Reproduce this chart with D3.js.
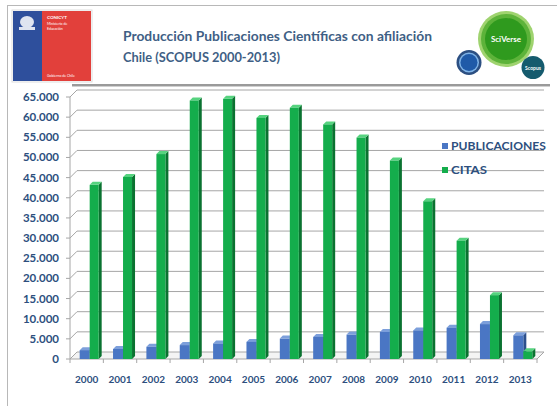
<!DOCTYPE html>
<html><head><meta charset="utf-8">
<script src="https://cdn.jsdelivr.net/npm/d3@7"></script>
<style>body{margin:0;background:#fff}svg{display:block}</style>
</head><body>
<svg id="c" width="557" height="406"></svg>
<script>
const years = ["2000","2001","2002","2003","2004","2005","2006","2007","2008","2009","2010","2011","2012","2013"];
const publicaciones = [2200, 2480, 3030, 3450, 3850, 4240, 5060, 5480, 6050, 6700, 7100, 7770, 8660, 5880];
const citas = [43200, 45160, 50840, 64130, 64540, 59810, 62330, 58190, 54940, 49230, 39130, 29350, 15830, 1900];
const yTicks = [0,5000,10000,15000,20000,25000,30000,35000,40000,45000,50000,55000,60000,65000];
const seriesNames = ["PUBLICACIONES", "CITAS"];
const titleLines = ["Producción Publicaciones Científicas con afiliación", "Chile (SCOPUS 2000-2013)"];

const svg = d3.select("#c");
const fmt = v => d3.format(",")(v).replace(/,/g, ".");
const FONT = "Lato, 'Open Sans', sans-serif";
const txtCol = "#2d4f7e";

// slide frame
svg.append("line").attr("x1",7).attr("y1",5.5).attr("x2",557).attr("y2",5.5).attr("stroke","#b8b8b8");
svg.append("line").attr("x1",7.5).attr("y1",5).attr("x2",7.5).attr("y2",406).attr("stroke","#b8b8b8");
// header separator
svg.append("rect").attr("x",72).attr("y",84).attr("width",478).attr("height",2).attr("fill","#9a9a9a");
svg.append("rect").attr("x",72).attr("y",86).attr("width",478).attr("height",1).attr("fill","#d0d0d0");

// logo
const lg = svg.append("g");
lg.append("rect").attr("x",12).attr("y",10).attr("width",80).attr("height",72).attr("fill","#fff").attr("stroke","#ddd");
lg.append("rect").attr("x",13).attr("y",11).attr("width",29).attr("height",70).attr("fill","#2e4f9c");
lg.append("rect").attr("x",42).attr("y",11).attr("width",49).attr("height",70).attr("fill","#e2403b");
lg.append("ellipse").attr("cx",27).attr("cy",22).attr("rx",7).attr("ry",6).attr("fill","#dfe4f0");
lg.append("rect").attr("x",19).attr("y",27).attr("width",16).attr("height",3).attr("fill","#dfe4f0");
lg.append("text").attr("x",47).attr("y",19).attr("font-size",4.5).attr("font-weight","bold").attr("fill","#fff").attr("font-family",FONT).text("CONICYT");
lg.append("text").attr("x",47).attr("y",25).attr("font-size",3.5).attr("fill","#fff").attr("font-family",FONT).text("Ministerio de");
lg.append("text").attr("x",47).attr("y",30).attr("font-size",3.5).attr("fill","#fff").attr("font-family",FONT).text("Educación");
lg.append("text").attr("x",47).attr("y",77).attr("font-size",3.5).attr("fill","#fff").attr("font-family",FONT).text("Gobierno de Chile");

// title
const titleLen = [309, 157];
svg.selectAll("text.title").data(titleLines).join("text").attr("class","title")
  .attr("x",123).attr("y",(d,i)=>41+i*21).attr("font-family",FONT).attr("font-weight","bold")
  .attr("font-size",14).attr("fill","#3f5f85").text(d=>d)
  .attr("textLength",(d,i)=>titleLen[i]).attr("lengthAdjust","spacingAndGlyphs");

// SciVerse logo
const sv = svg.append("g");
sv.append("circle").attr("cx",506).attr("cy",39).attr("r",28).attr("fill","#9fd36f");
sv.append("circle").attr("cx",506).attr("cy",39).attr("r",25).attr("fill","#5db33a");
sv.append("circle").attr("cx",506).attr("cy",39).attr("r",21).attr("fill","#2f9a1e");
sv.append("text").attr("x",506).attr("y",42).attr("text-anchor","middle").attr("font-family",FONT).attr("font-weight","bold").attr("font-size",8).attr("fill","#fff").text("SciVerse");
sv.append("circle").attr("cx",469).attr("cy",62.5).attr("r",12.5).attr("fill","#2c4f82");
sv.append("circle").attr("cx",469).attr("cy",62.5).attr("r",10).attr("fill","#7fb3e6");
sv.append("circle").attr("cx",469).attr("cy",62.5).attr("r",8.5).attr("fill","#1f5aa8");
sv.append("circle").attr("cx",533).attr("cy",67.5).attr("r",11.5).attr("fill","#155b6e");
sv.append("text").attr("x",533).attr("y",70).attr("text-anchor","middle").attr("font-family",FONT).attr("font-weight","bold").attr("font-size",5).attr("fill","#fff").text("Scopus");

// chart
const x0 = 70, x1 = 537, DX = 7, DY = -7;
const x = d3.scaleBand().domain(years).range([x0, x1]).paddingInner(0).paddingOuter(0);
const y = d3.scaleLinear().domain([0, 65000]).range([359, 97]);

// floor
const floorY = y(0);
svg.append("path").attr("d",`M${x0},${floorY}L${x1},${floorY}L${x1+DX},${floorY+DY}L${x0+DX},${floorY+DY}Z`)
  .attr("fill","#f4f4f4").attr("stroke","#a6a6a6");
// gridlines
const g = svg.append("g");
yTicks.filter(t=>t>0).forEach(t=>{
  g.append("path").attr("d",`M${x0},${y(t)}L${x0+DX},${y(t)+DY}L${x1+DX},${y(t)+DY}`)
    .attr("fill","none").attr("stroke","#a6a6a6").attr("stroke-width",1);
});
// y axis line and ticks
svg.append("line").attr("x1",x0).attr("x2",x0).attr("y1",y(65000)).attr("y2",floorY).attr("stroke","#a6a6a6");
yTicks.forEach(t=>{
  svg.append("line").attr("x1",x0-4).attr("x2",x0).attr("y1",y(t)).attr("y2",y(t)).attr("stroke","#a6a6a6");
});
svg.selectAll("text.yl").data(yTicks).join("text").attr("class","yl")
  .attr("x",59).attr("y",t=>y(t)+4).attr("text-anchor","end").attr("font-family",FONT)
  .attr("font-weight","bold").attr("font-size",11.5).attr("fill",txtCol).text(fmt);
// x ticks
years.concat(["end"]).forEach((yr,i)=>{
  const xx = x0 + i*x.step();
  svg.append("line").attr("x1",xx).attr("x2",xx).attr("y1",floorY).attr("y2",floorY+4).attr("stroke","#a6a6a6");
});
svg.selectAll("text.xl").data(years).join("text").attr("class","xl")
  .attr("x",d=>x(d)+x.bandwidth()/2).attr("y",383).attr("text-anchor","middle").attr("font-family",FONT)
  .attr("font-weight","bold").attr("font-size",10).attr("fill",txtCol).text(d=>d);

// 3D bars
const d = 3;
function bar3d(sel, bx, w, v, front, side, top){
  const yt = y(v), yb = y(0);
  sel.append("path").attr("d",`M${bx+w},${yb}L${bx+w+d},${yb-d}L${bx+w+d},${yt-d}L${bx+w},${yt}Z`).attr("fill",side);
  sel.append("path").attr("d",`M${bx},${yt}L${bx+d},${yt-d}L${bx+w+d},${yt-d}L${bx+w},${yt}Z`).attr("fill",top);
  sel.append("rect").attr("x",bx).attr("y",yt).attr("width",w).attr("height",yb-yt).attr("fill",front);
}
const bars = svg.append("g");
years.forEach((yr,i)=>{
  const c = x(yr) + x.bandwidth()/2;
  const gb = bars.append("g");
  bar3d(gb, c-7, 10, publicaciones[i], "#4a76c4", "#2c4f8c", "#7c9fdb");
  bar3d(gb, c+3, 9, citas[i], "#14ad4c", "#0a7230", "#56d37f");
});

// legend
const legColors = ["#4a76c4","#14ad4c"];
const legLen = [95, 36];
seriesNames.forEach((n,i)=>{
  svg.append("rect").attr("x",442).attr("y",143+i*24).attr("width",6).attr("height",6).attr("fill",legColors[i]);
  svg.append("text").attr("x",451).attr("y",150+i*24).attr("font-family",FONT).attr("font-weight","bold")
    .attr("font-size",11.5).attr("fill",txtCol).attr("textLength",legLen[i]).attr("lengthAdjust","spacingAndGlyphs").text(n);
});
</script>
</body></html>
